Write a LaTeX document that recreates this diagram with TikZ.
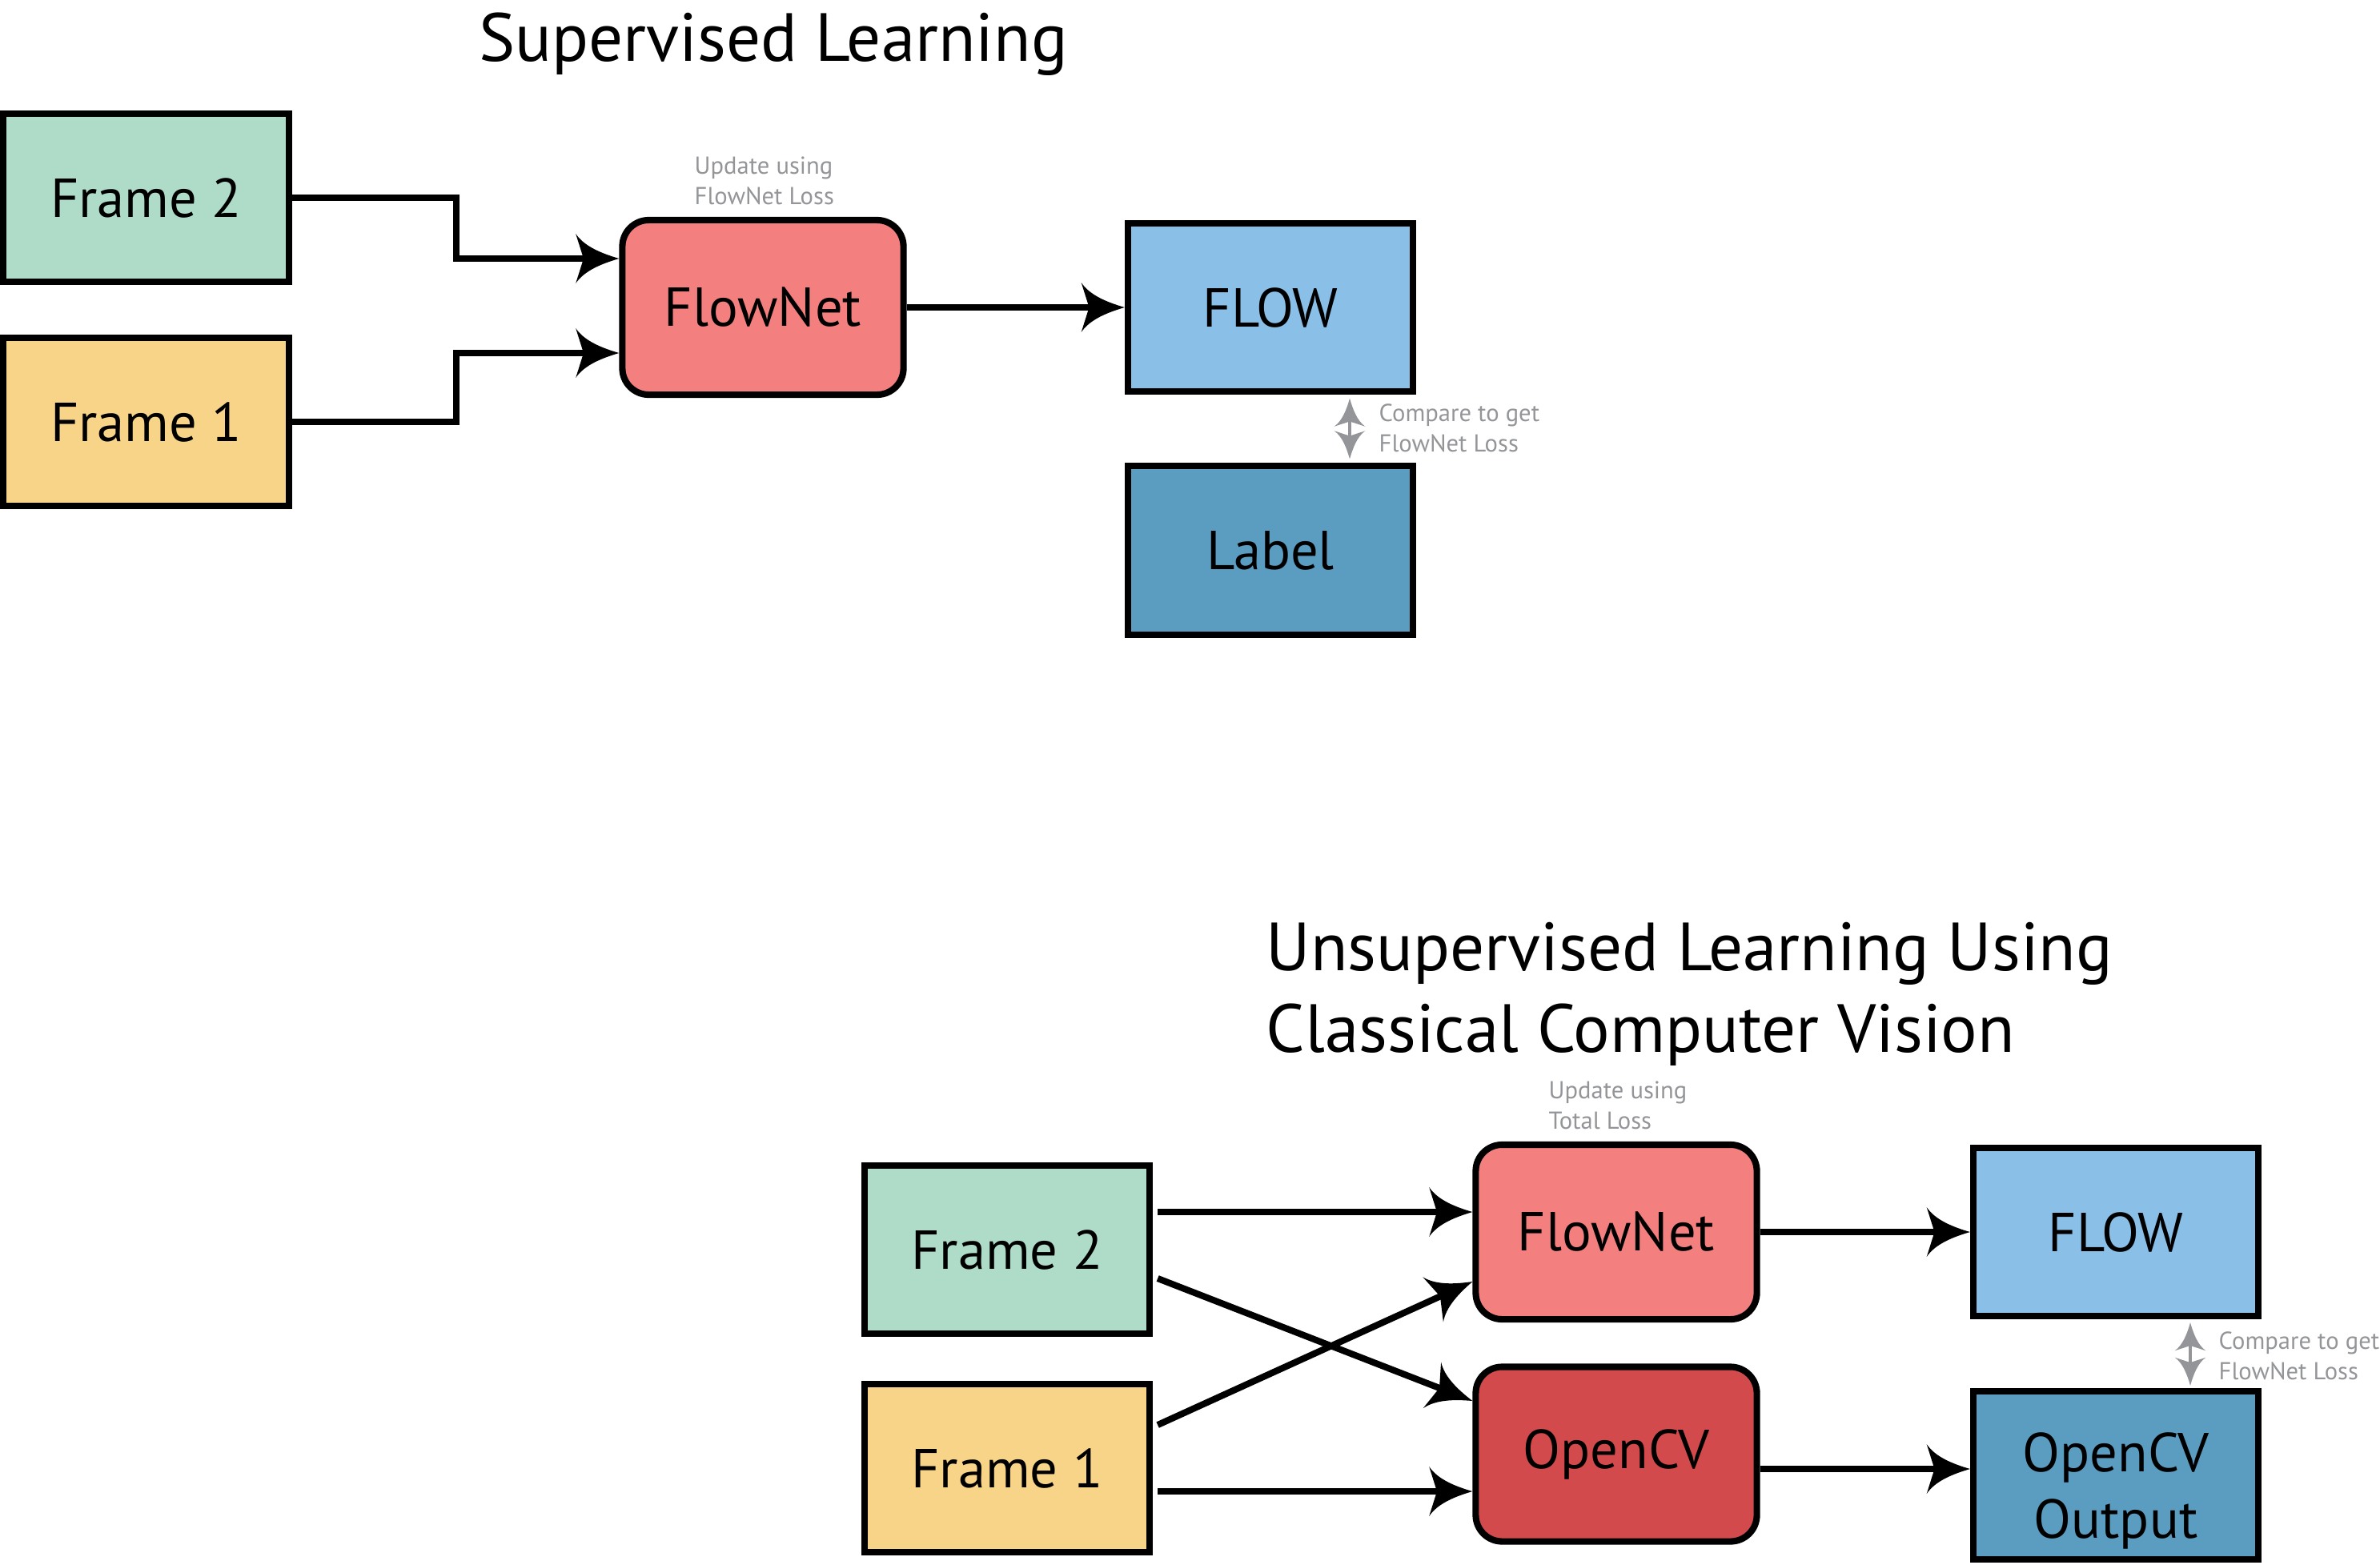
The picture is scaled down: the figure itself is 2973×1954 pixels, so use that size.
\documentclass[tikz,border=0pt]{standalone}
\usepackage{fontspec}
\setmainfont{PT Sans}
\usetikzlibrary{arrows.meta,calc}

\pgfdeclarearrow{
  name = Swoosh,
  parameters = {\the\pgfarrowlength,\the\pgfarrowwidth},
  setup code = {
    \pgfarrowssettipend{0pt}
    \pgfarrowssetlineend{-0.75\pgfarrowlength}
    \pgfarrowssetbackend{-\pgfarrowlength}
    \pgfarrowshullpoint{0pt}{0pt}
    \pgfarrowshullpoint{-\pgfarrowlength}{.5\pgfarrowwidth}
    \pgfarrowshullpoint{-\pgfarrowlength}{-.5\pgfarrowwidth}
    \pgfarrowssavethe\pgfarrowlength
    \pgfarrowssavethe\pgfarrowwidth
  },
  drawing code = {
    \pgfpathmoveto{\pgfpointorigin}
    \pgfpathcurveto{\pgfpoint{-.39\pgfarrowlength}{.1\pgfarrowwidth}}{\pgfpoint{-.8\pgfarrowlength}{.24\pgfarrowwidth}}{\pgfpoint{-\pgfarrowlength}{.5\pgfarrowwidth}}
    \pgfpathlineto{\pgfpoint{-.82\pgfarrowlength}{0pt}}
    \pgfpathlineto{\pgfpoint{-\pgfarrowlength}{-.5\pgfarrowwidth}}
    \pgfpathcurveto{\pgfpoint{-.8\pgfarrowlength}{-.24\pgfarrowwidth}}{\pgfpoint{-.39\pgfarrowlength}{-.1\pgfarrowwidth}}{\pgfpointorigin}
    \pgfpathclose
    \pgfusepathqfill
  },
  defaults = {length=15.4pt, width=17.6pt}
}

\definecolor{mint}{RGB}{174,220,201}
\definecolor{sand}{RGB}{248,212,136}
\definecolor{salmon}{RGB}{243,127,126}
\definecolor{brick}{RGB}{211,74,76}
\definecolor{sky}{RGB}{138,191,231}
\definecolor{steel}{RGB}{91,157,193}
\definecolor{note}{RGB}{147,149,152}

\begin{document}
\begin{tikzpicture}[x=0.01cm,y=-0.01cm,
  sq/.style={draw=black, line width=2.3pt, minimum width=3.56cm, minimum height=2.10cm, inner sep=0pt, align=center, font=\fontsize{19.5pt}{23.6pt}\selectfont},
  rnd/.style={sq, rounded corners=0.33cm, minimum width=3.51cm, minimum height=2.18cm},
  conn/.style={line width=2.3pt, -{Swoosh}},
  cmp/.style={draw=note, line width=0.9pt, {Swoosh[length=10pt,width=11pt]}-{Swoosh[length=10pt,width=11pt]}},
  notetext/.style={text=note, font=\fontsize{8.7pt}{10.7pt}\selectfont, align=left, inner sep=0pt, anchor=base west},
  title/.style={font=\fontsize{24.2pt}{29pt}\selectfont, inner sep=0pt}
]
\useasboundingbox (0,0) rectangle (2973,1954);

% ---------- Supervised ----------
\node[title, anchor=base] (t1) at (966,76) {Supervised Learning};
\node[sq, fill=mint] (f2a) at (182.5,247) {Frame 2};
\node[sq, fill=sand] (f1a) at (182.5,527) {Frame 1};
\node[rnd, fill=salmon] (fna) at (953,384) {FlowNet};
\node[sq, fill=sky] (flowa) at (1587,384) {FLOW};
\node[sq, fill=steel] (labela) at (1587,687.5) {Label};
\node[notetext] (na) at (867,255) {Update using\\FlowNet Loss};
\node[notetext] (ca) at (1722,564) {Compare to get\\FlowNet Loss};

\draw[conn] (f2a.east) -- ++(205,0) |- ($(fna.west)+(0,-61)$);
\draw[conn] (f1a.east) -- ++(205,0) |- ($(fna.west)+(0,57)$);
\draw[conn] (fna.east) -- (flowa.west);
\draw[cmp] ($(flowa.south)+(99,4.5)$) -- ($(labela.north)+(99,-5)$);

% ---------- Unsupervised ----------
\node[title, anchor=base west, align=left] (t2) at (1581,1314) {Unsupervised Learning Using\\Classical Computer Vision};
\node[sq, fill=mint] (f2b) at (1258,1561) {Frame 2};
\node[sq, fill=sand] (f1b) at (1258,1834) {Frame 1};
\node[rnd, fill=salmon] (fnb) at (2019,1539) {FlowNet};
\node[rnd, fill=brick] (ocv) at (2019,1816.5) {OpenCV};
\node[sq, fill=sky] (flowb) at (2643,1539) {FLOW};
\node[sq, fill=steel] (outb) at (2643,1843) {\raisebox{-0.2cm}[\height][\depth]{\begin{tabular}{@{}c@{}}OpenCV\\Output\end{tabular}}};
\node[notetext] (nb) at (1934,1410) {Update using\\Total Loss};
\node[notetext] (cb) at (2771,1723) {Compare to get\\FlowNet Loss};

\draw[conn] ($(f2b.east)+(6,-47)$) -- ($(fnb.west)+(0,-25)$);
\draw[conn] ($(f2b.east)+(6,36)$) -- ($(ocv.west)+(0,-66.5)$);
\draw[conn] ($(f1b.east)+(6,-54)$) -- ($(fnb.west)+(0,62)$);
\draw[conn] ($(f1b.east)+(6,29)$) -- ($(ocv.west)+(0,46.5)$);
\draw[conn] (fnb.east) -- (flowb.west);
\draw[conn] ($(ocv.east)+(0,18.5)$) -- ($(outb.west)+(0,-8)$);
\draw[cmp] ($(flowb.south)+(93,4)$) -- ($(outb.north)+(93,-3)$);
\end{tikzpicture}
\end{document}
